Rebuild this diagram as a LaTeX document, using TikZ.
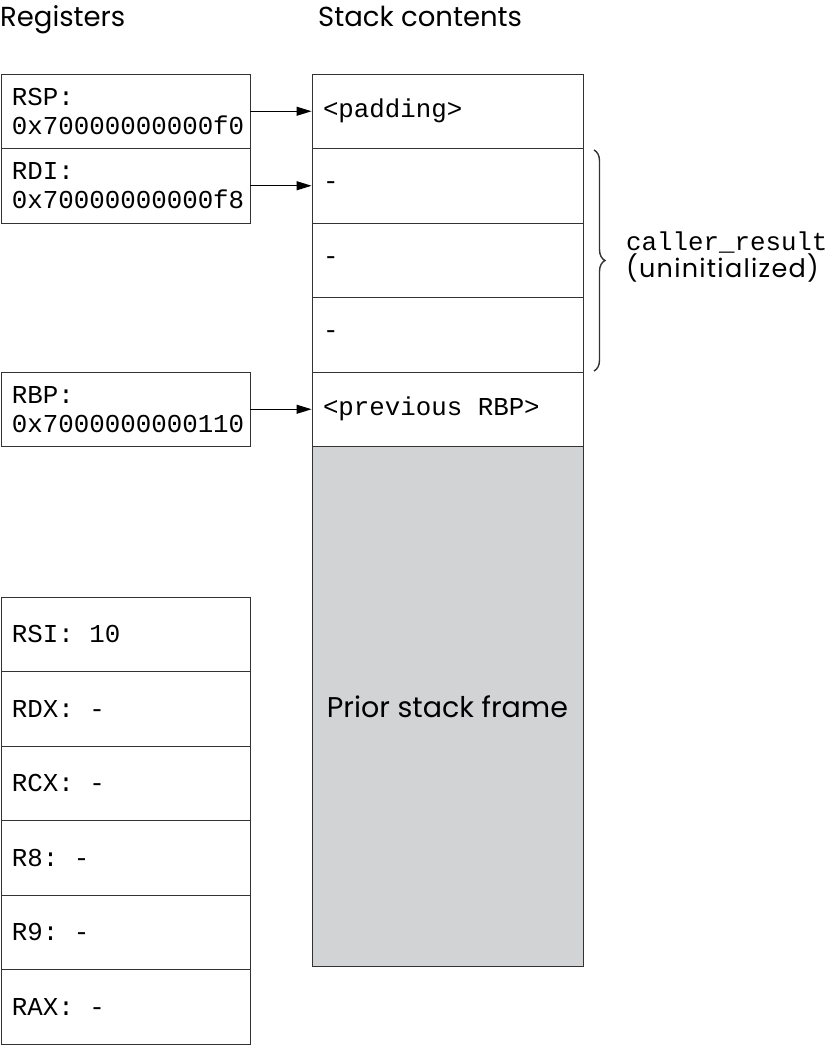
\documentclass[tikz,border=0pt]{standalone}
\usepackage{fontspec}
\setmainfont{Poppins}
\newfontfamily\monof[WordSpace={1,0,0},PunctuationSpace=WordSpace]{Liberation Mono}
\newfontfamily\widesans[LetterSpace=5]{Poppins}
\usetikzlibrary{arrows.meta,decorations.pathreplacing}
\definecolor{framegray}{HTML}{D1D3D4}
\definecolor{edge}{HTML}{333333}
\newcommand{\msp}{\hspace*{0.6em}}
\begin{document}
\begin{tikzpicture}[x=1pt,y=-1pt,
  cellbase/.style={draw=edge,line width=0.9pt,inner sep=0pt,minimum height=74.5pt,align=left,
    font=\monof\fontsize{25.8}{29}\selectfont},
  regbox/.style={cellbase,minimum width=249pt,text width=227pt},
  stackbox/.style={cellbase,minimum width=271pt,text width=249pt},
  hdr/.style={font=\fontsize{27.5}{30}\selectfont,inner sep=0pt,anchor=base west},
  arr/.style={draw=black,line width=1pt,-{Triangle[length=15pt,width=9pt]}}]
\useasboundingbox (0,0) rectangle (830,1046);
% headers
\node[hdr] (hreg) at (0,27) {Registers};
\node[hdr] (hstack) at (318,27) {Stack contents};
% registers
\node[regbox] (rsp) at (125.5,111.25) {RSP:\\0x70000000000f0};
\node[regbox] (rdi) at (125.5,185.75) {RDI:\\0x70000000000f8};
\node[regbox] (rbp) at (125.5,409.25) {RBP:\\0x7000000000110};
\node[regbox] (rsi) at (125.5,634.25) {RSI:\msp10};
\node[regbox] (rdx) at (125.5,708.75) {RDX:\msp-};
\node[regbox] (rcx) at (125.5,783.25) {RCX:\msp-};
\node[regbox] (r8) at (125.5,857.75) {R8:\msp-};
\node[regbox] (r9) at (125.5,932.25) {R9:\msp-};
\node[regbox] (rax) at (125.5,1006.75) {RAX:\msp-};
% stack
\node[stackbox] (pad) at (447.5,111.25) {<padding>};
\node[stackbox] (s1) at (447.5,185.75) {-};
\node[stackbox] (s2) at (447.5,260.25) {-};
\node[stackbox] (s3) at (447.5,334.75) {-};
\node[stackbox] (prbp) at (447.5,409.25) {<previous\msp RBP>};
\node[draw=edge,line width=0.9pt,fill=framegray,minimum width=271pt,minimum height=520pt,inner sep=0pt,
  font=\fontsize{28.5}{30}\selectfont] (prior) at (447.5,706.5) {Prior stack frame};
% arrows
\draw[arr] (rsp.east) -- (pad.west);
\draw[arr] (rdi.east) -- (s1.west);
\draw[arr] (rbp.east) -- (prbp.west);
% brace
\coordinate (bt) at (594,150);
\coordinate (bb) at (594,371);
\draw[decorate,decoration={brace,amplitude=11pt},line width=1.4pt,draw=edge] (bt) -- (bb);
\node[inner sep=0pt,anchor=base west,font=\monof\fontsize{25.8}{29}\selectfont] (cr) at (626,250) {caller\_result};
\node[inner sep=0pt,anchor=base west,font=\widesans\fontsize{25.5}{30}\selectfont] (un) at (626,277) {(uninitialized)};
\end{tikzpicture}
\end{document}
